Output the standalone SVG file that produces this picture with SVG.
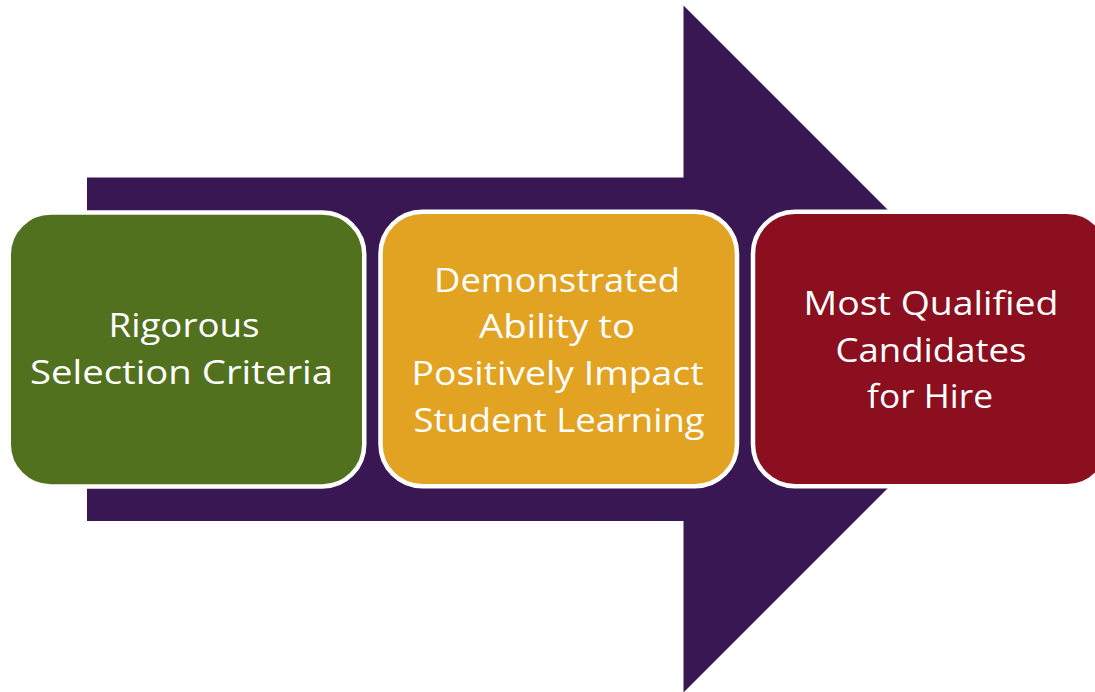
<svg xmlns="http://www.w3.org/2000/svg" width="1095" height="692" viewBox="0 0 1095 692">
  <style>
    .box { stroke: #ffffff; stroke-width: 4.5; }
    .lbl { font-family: "Open Sans", "Noto Sans", sans-serif; font-size: 33px; fill: #ffffff; text-anchor: middle; }
  </style>
  <rect width="1095" height="692" fill="#ffffff"/>

  <!-- large block arrow behind the steps -->
  <g id="connectors">
    <polygon fill="#391753" points="87,177.5 683.5,177.5 683.5,5.5 1027,349 683.5,692.5 683.5,521 87,521"/>
  </g>

  <g id="step-selection">
    <rect class="box" fill="#52711F" x="8.75" y="212.5" width="355.5" height="274" rx="42" ry="42"/>
    <text class="lbl" x="184" y="337" textLength="151" lengthAdjust="spacingAndGlyphs">Rigorous</text>
    <text class="lbl" x="181.5" y="383.5" textLength="303" lengthAdjust="spacingAndGlyphs">Selection Criteria</text>
  </g>

  <g id="step-impact">
    <rect class="box" fill="#E3A322" x="380.5" y="211.7" width="356.5" height="274.5" rx="42" ry="42"/>
    <text class="lbl" x="557" y="291.7" textLength="246" lengthAdjust="spacingAndGlyphs">Demonstrated</text>
    <text class="lbl" x="557" y="338.3" textLength="156" lengthAdjust="spacingAndGlyphs">Ability to</text>
    <text class="lbl" x="557.5" y="385" textLength="292" lengthAdjust="spacingAndGlyphs">Positively Impact</text>
    <text class="lbl" x="559" y="431.7" textLength="291" lengthAdjust="spacingAndGlyphs">Student Learning</text>
  </g>

  <g id="step-hire">
    <rect class="box" fill="#8B0F1F" x="753" y="211.7" width="356" height="274.5" rx="42" ry="42"/>
    <text class="lbl" x="931" y="315" textLength="255" lengthAdjust="spacingAndGlyphs">Most Qualified</text>
    <text class="lbl" x="931" y="361.7" textLength="191" lengthAdjust="spacingAndGlyphs">Candidates</text>
    <text class="lbl" x="930" y="408.3" textLength="126" lengthAdjust="spacingAndGlyphs">for Hire</text>
  </g>
</svg>
